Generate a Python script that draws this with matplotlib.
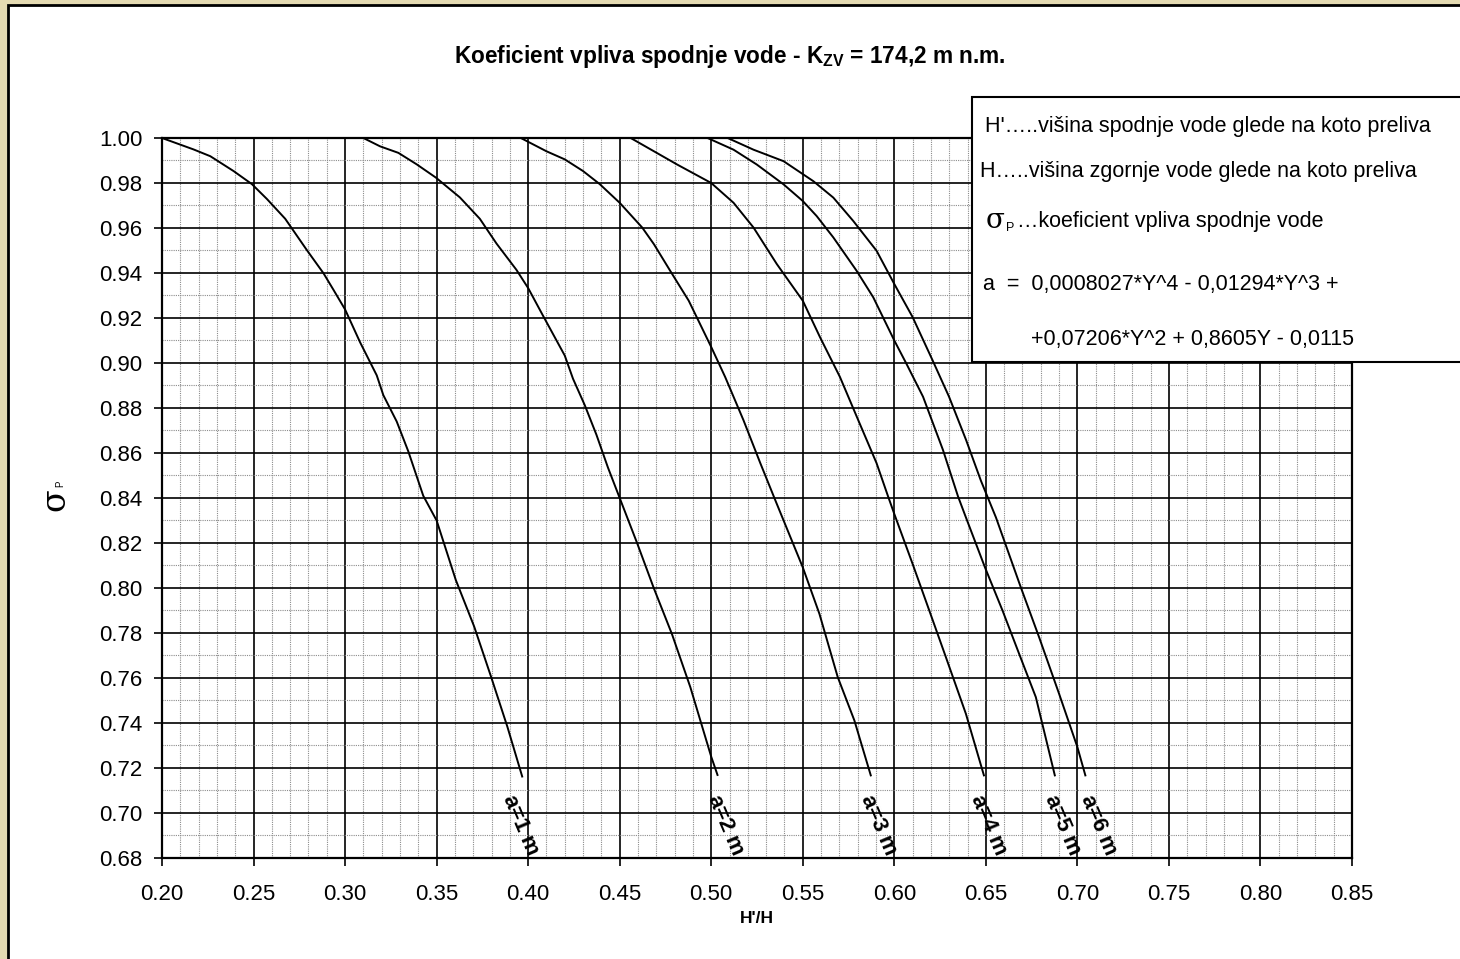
import matplotlib
matplotlib.use('Agg')
import matplotlib.pyplot as plt
from matplotlib.patches import Rectangle
from matplotlib.ticker import MultipleLocator

plt.rcParams['font.family'] = ['Liberation Sans', 'DejaVu Sans']
plt.rcParams['mathtext.fontset'] = 'custom'
plt.rcParams['mathtext.rm'] = 'Liberation Sans'
plt.rcParams['mathtext.bf'] = 'Liberation Sans:bold'
plt.rcParams['mathtext.it'] = 'Liberation Sans:italic'

# ---------------- data ----------------
a1_x = [0.200, 0.2173, 0.2264, 0.2391, 0.2491, 0.2573, 0.2673, 0.2791, 0.2882, 0.2936, 0.3000, 0.3082,
        0.3173, 0.3209, 0.3282, 0.3345, 0.3427, 0.3500, 0.3605, 0.3705, 0.3796, 0.3887, 0.3969]
a1_y = [1.000, 0.9949, 0.9919, 0.9853, 0.9795, 0.9729, 0.9641, 0.9502, 0.9399, 0.9326, 0.9238, 0.9092,
        0.8945, 0.8857, 0.8740, 0.8608, 0.8410, 0.8300, 0.8035, 0.7829, 0.7609, 0.7382, 0.7158]

a2_x = [0.310, 0.3191, 0.3291, 0.3391, 0.3496, 0.3627, 0.3736, 0.3827, 0.3936, 0.4000, 0.4082, 0.4200,
        0.4245, 0.4309, 0.4373, 0.4436, 0.4500, 0.4595, 0.4686, 0.4786, 0.4886, 0.5000, 0.5036]
a2_y = [1.000, 0.9963, 0.9934, 0.9883, 0.9824, 0.9736, 0.9641, 0.9531, 0.9414, 0.9333, 0.9209, 0.9033,
        0.8930, 0.8813, 0.8681, 0.8535, 0.8400, 0.8200, 0.8000, 0.7794, 0.7559, 0.7250, 0.7165]

a3_x = [0.396, 0.4100, 0.4200, 0.4300, 0.4391, 0.4500, 0.4623, 0.4687, 0.4787, 0.4877, 0.5000, 0.5076,
        0.5176, 0.5268, 0.5349, 0.5500, 0.5591, 0.5691, 0.5782, 0.5873]
a3_y = [1.000, 0.9941, 0.9905, 0.9853, 0.9795, 0.9712, 0.9602, 0.9528, 0.9395, 0.9277, 0.9071, 0.8938,
        0.8746, 0.8555, 0.8392, 0.8092, 0.7885, 0.7604, 0.7411, 0.7163]

a4_x = [0.456, 0.4687, 0.4814, 0.5000, 0.5122, 0.5231, 0.5358, 0.5500, 0.5594, 0.5703, 0.5803, 0.5903,
        0.5966, 0.6000, 0.6100, 0.6191, 0.6282, 0.6391, 0.6491]
a4_y = [1.000, 0.9941, 0.9882, 0.9800, 0.9712, 0.9602, 0.9440, 0.9277, 0.9115, 0.8938, 0.8746, 0.8555,
        0.8407, 0.8329, 0.8107, 0.7900, 0.7692, 0.7441, 0.7163]

a5_x = [0.498, 0.5122, 0.5249, 0.5395, 0.5500, 0.5576, 0.5667, 0.5794, 0.5885, 0.6000, 0.6066, 0.6157,
        0.6266, 0.6348, 0.6391, 0.6495, 0.6591, 0.6682, 0.6773, 0.6878]
a5_y = [1.000, 0.9948, 0.9882, 0.9794, 0.9720, 0.9653, 0.9558, 0.9410, 0.9292, 0.9100, 0.8997, 0.8850,
        0.8613, 0.8407, 0.8314, 0.8092, 0.7900, 0.7707, 0.7515, 0.7163]

a6_x = [0.509, 0.5231, 0.5395, 0.5558, 0.5667, 0.5776, 0.5903, 0.6000, 0.6100, 0.6209, 0.6299, 0.6392,
        0.6473, 0.6555, 0.6691, 0.6791, 0.6900, 0.7000, 0.7045]
a6_y = [1.000, 0.9948, 0.9897, 0.9808, 0.9735, 0.9631, 0.9499, 0.9351, 0.9204, 0.9012, 0.8850, 0.8658,
        0.8477, 0.8314, 0.8003, 0.7781, 0.7530, 0.7293, 0.7163]

curve_labels = ['a=1 m', 'a=2 m', 'a=3 m', 'a=4 m', 'a=5 m', 'a=6 m']
x_ticks = [0.20, 0.25, 0.30, 0.35, 0.40, 0.45, 0.50, 0.55, 0.60, 0.65, 0.70, 0.75, 0.80, 0.85]
y_ticks = [0.68, 0.70, 0.72, 0.74, 0.76, 0.78, 0.80, 0.82, 0.84, 0.86, 0.88, 0.90, 0.92, 0.94, 0.96, 0.98, 1.00]

title_text = r'Koeficient vpliva spodnje vode - K$_{\mathbf{ZV}}$ = 174,2 m n.m.'
legend_lines = ["H'\u2026..vi\u0161ina spodnje vode glede na koto preliva",
                "H\u2026..vi\u0161ina zgornje vode glede na koto preliva",
                "\u2026koeficient vpliva spodnje vode",
                "a  =  0,0008027*Y^4 - 0,01294*Y^3 +",
                "+0,07206*Y^2 + 0,8605Y - 0,0115"]

# ---------------- figure ----------------
W, H = 1460, 959
fig = plt.figure(figsize=(W / 100, H / 100), dpi=100)
fig.patch.set_facecolor('#e4dab2')


def fx(px):
    return px / W


def fy(py):
    return 1 - py / H


# white chart panel with black border (behind the axes)
fig.patches.append(Rectangle((fx(8), -0.05), 1.0, fy(5) + 0.05, transform=fig.transFigure,
                             facecolor='white', edgecolor='black', lw=2.0, zorder=-1))

ax = fig.add_axes([fx(162), fy(858), (1352 - 162) / W, (858 - 138) / H])
ax.set_zorder(1)
ax.set_facecolor('white')
ax.set_xlim(0.20, 0.85)
ax.set_ylim(0.68, 1.00)
ax.set_xticks(x_ticks)
ax.set_yticks(y_ticks)
ax.set_xticklabels([f'{v:.2f}' for v in x_ticks])
ax.set_yticklabels([f'{v:.2f}' for v in y_ticks])
ax.xaxis.set_minor_locator(MultipleLocator(0.01))
ax.yaxis.set_minor_locator(MultipleLocator(0.01))
ax.grid(which='minor', color='#8c8c8c', linestyle=(0, (1, 1)), linewidth=0.8)
ax.grid(which='major', color='black', linestyle='-', linewidth=1.2)
ax.set_axisbelow(True)
ax.tick_params(which='minor', length=0)
ax.tick_params(which='major', direction='out', length=6, width=1.2, labelsize=16, color='black')
ax.tick_params(axis='x', pad=13)
ax.tick_params(axis='y', pad=8)
for s in ax.spines.values():
    s.set_linewidth(1.6)

curves = [(a1_x, a1_y), (a2_x, a2_y), (a3_x, a3_y), (a4_x, a4_y), (a5_x, a5_y), (a6_x, a6_y)]
label_dx = [-0.001, 0.004, 0.004, 0.0025, 0.004, 0.007]
for (xs, ys), lab, dx in zip(curves, curve_labels, label_dx):
    ax.plot(xs, ys, color='black', lw=1.4, zorder=3, solid_capstyle='butt')
    ax.text(xs[-1] + dx, 0.6945, lab, rotation=-67, ha='center', va='center',
            fontsize=16, fontweight='bold', zorder=4)

ax.set_xlabel("H'/H", fontsize=12.5, fontweight='bold', labelpad=4)

# y-axis label: sigma with a tiny subscript P, rotated
fig.text(fx(55), fy(500), '\u03c3', rotation=90, fontsize=24, ha='center', va='center',
         family=['DejaVu Serif'])
fig.text(fx(60), fy(484), 'P', rotation=90, fontsize=7, ha='center', va='center')

fig.text(fx(730), fy(57), title_text, ha='center', va='center', fontsize=16.3, fontweight='bold')

# explanation box (drawn above the axes)
fig.patches.append(Rectangle((fx(972), fy(362)), 0.5, (362 - 97) / H, transform=fig.transFigure,
                             facecolor='white', edgecolor='black', lw=1.5, zorder=5))
fs = 15.5
fig.text(fx(985), fy(126), legend_lines[0], fontsize=fs, va='center', ha='left', zorder=6)
fig.text(fx(980), fy(171), legend_lines[1], fontsize=fs, va='center', ha='left', zorder=6)
fig.text(fx(986), fy(220), '\u03c3', fontsize=20, va='center', ha='left', zorder=6,
         family=['DejaVu Serif'])
fig.text(fx(1006), fy(228), 'P', fontsize=9, va='center', ha='left', zorder=6)
fig.text(fx(1017), fy(222), legend_lines[2], fontsize=fs, va='center', ha='left', zorder=6)
fig.text(fx(983), fy(284), legend_lines[3], fontsize=fs, va='center', ha='left', zorder=6)
fig.text(fx(1031), fy(340), legend_lines[4], fontsize=fs, va='center', ha='left', zorder=6)

fig.savefig('out.png', dpi=100, facecolor=fig.get_facecolor())
